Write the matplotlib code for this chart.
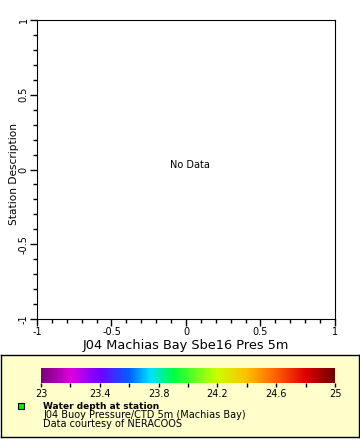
import numpy as np
import matplotlib
matplotlib.use("Agg")
import matplotlib.pyplot as plt
from matplotlib.colors import LinearSegmentedColormap
from matplotlib.patches import Rectangle
from matplotlib.ticker import MultipleLocator

# Chart data
x_label = "J04 Machias Bay Sbe16 Pres 5m"
y_label = "Station Description"
axis_ticks = [-1, -0.5, 0, 0.5, 1]
axis_tick_labels = ["-1", "-0.5", "0", "0.5", "1"]
cbar_min, cbar_max = 23, 25
cbar_ticks = [23, 23.4, 23.8, 24.2, 24.6, 25]
cbar_stops = [0.0, 0.1, 0.2, 0.3, 0.37, 0.45, 0.6, 0.7, 0.8, 0.9, 1.0]
cbar_colors = ["#7a007a", "#dd00dd", "#7000ff", "#0060ff", "#00e0ff", "#00ff40",
               "#ccff00", "#ffc000", "#ff6000", "#e00000", "#700000"]
legend_title = "Water depth at station"
legend_lines = ["J04 Buoy Pressure/CTD 5m (Machias Bay)", "Data courtesy of NERACOOS"]

W, H = 360, 440
fig = plt.figure(figsize=(3.6, 4.4), dpi=100)
plt.rcParams["font.family"] = "DejaVu Sans"

def box(x0, y0, x1, y1):
    # pixel box -> figure fraction rect
    return [x0 / W, 1 - y1 / H, (x1 - x0) / W, (y1 - y0) / H]

# main axes
ax = fig.add_axes(box(37, 20, 335, 319))
ax.set_xlim(-1, 1)
ax.set_ylim(-1, 1)
ax.set_xticks(axis_ticks)
ax.set_xticklabels(axis_tick_labels, fontsize=7)
ax.set_yticks(axis_ticks)
ax.set_yticklabels(axis_tick_labels, fontsize=7, rotation=90, va="center")
ax.xaxis.set_minor_locator(MultipleLocator(0.1))
ax.yaxis.set_minor_locator(MultipleLocator(0.1))
ax.tick_params(which="major", length=5, width=1, direction="out", pad=1)
ax.tick_params(which="minor", length=3, width=1, direction="out")
ax.set_xlabel(x_label, fontsize=9.3)
ax.set_ylabel(y_label, fontsize=7.6)
ax.xaxis.set_label_coords(0.5, -(345 - 319) / 299, transform=ax.transAxes)
ax.xaxis.label.set_va("center")
ax.yaxis.set_label_coords(-(37 - 14) / 298, (319 - 174) / 299, transform=ax.transAxes)
ax.yaxis.label.set_va("center")
ax.text(0.025, 0.03, "No Data", fontsize=7, ha="center", va="center")

# legend panel
lg = fig.add_axes(box(1, 355, 359, 437))
lg.set_xlim(0, 358)
lg.set_ylim(82, 0)
lg.set_facecolor("#ffffcc")
lg.set_xticks([])
lg.set_yticks([])
for s in lg.spines.values():
    s.set_linewidth(1)

cmap = LinearSegmentedColormap.from_list("depth", list(zip(cbar_stops, cbar_colors)))
cax = fig.add_axes(box(41, 368, 335, 383))
grad = np.linspace(cbar_min, cbar_max, 256).reshape(1, -1)
cax.imshow(grad, aspect="auto", cmap=cmap, extent=[cbar_min, cbar_max, 0, 1])
cax.set_xlim(cbar_min, cbar_max)
cax.set_yticks([])
for s in cax.spines.values():
    s.set_visible(False)
cax.set_xticks(cbar_ticks)
cax.set_xticklabels([f"{t:g}" for t in cbar_ticks], fontsize=7)
cax.xaxis.set_minor_locator(MultipleLocator(0.2))
cax.tick_params(which="both", length=3, width=1, direction="out", pad=1)

lg.add_patch(Rectangle((17, 48), 6, 6, facecolor="#00ee00", edgecolor="black", lw=0.8))
lg.text(42, 51, legend_title, fontsize=6.5, fontweight="bold", va="center")
lg.text(42, 60, legend_lines[0], fontsize=7.0, va="center")
lg.text(42, 69, legend_lines[1], fontsize=7.0, va="center")

fig.savefig("out.png", dpi=100)
